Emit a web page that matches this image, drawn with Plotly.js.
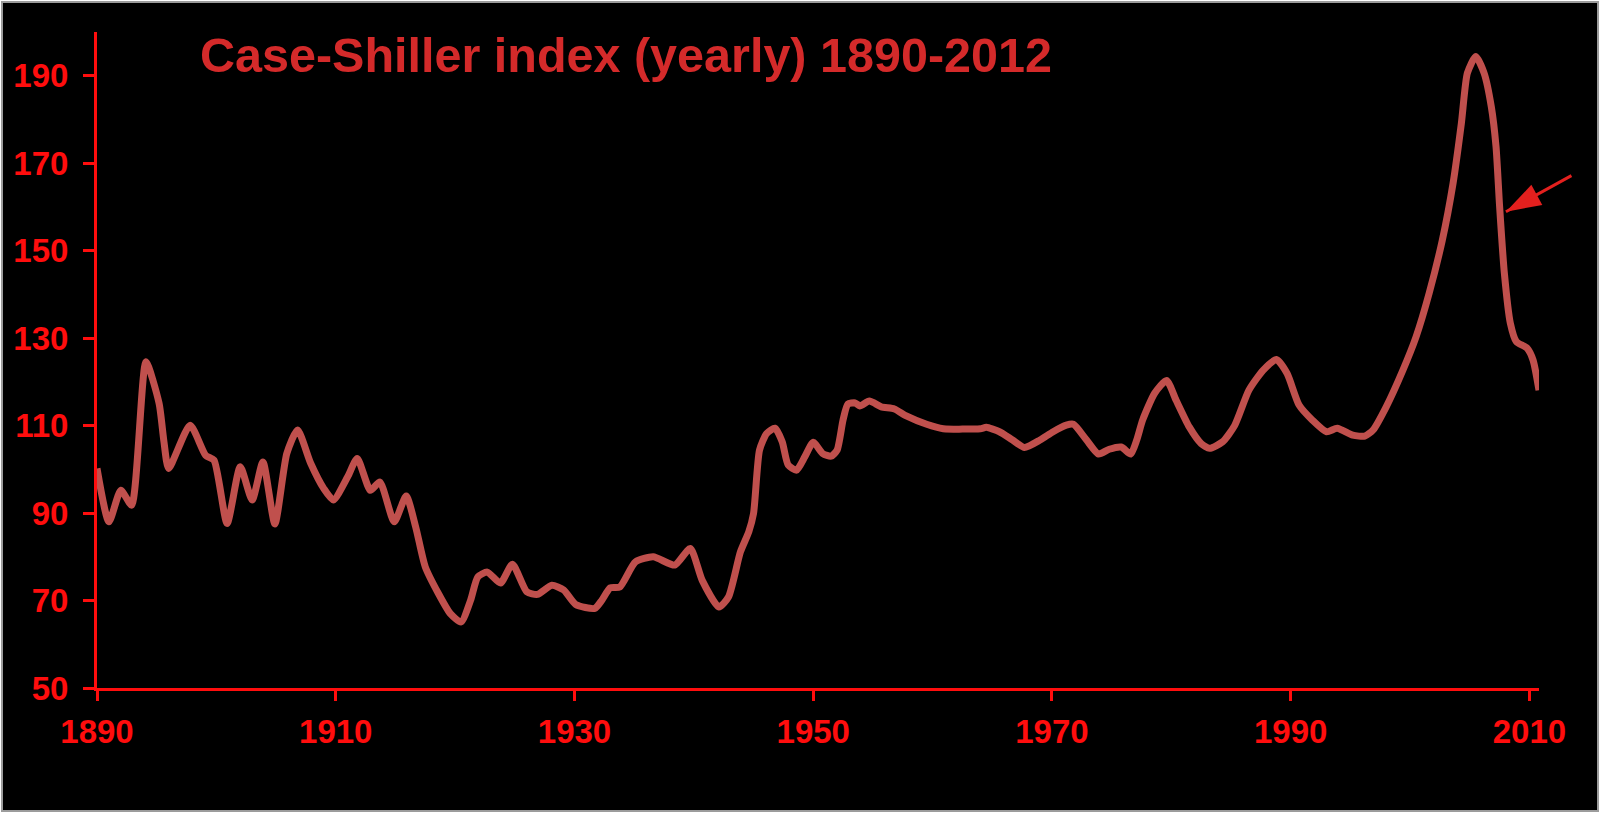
<!DOCTYPE html>
<html>
<head>
<meta charset="utf-8">
<script src="https://cdn.plot.ly/plotly-3.0.1.min.js"></script>
<style>
  html, body { margin: 0; padding: 0; background: #ffffff; }
  #chart { position: absolute; left: 0; top: 0; width: 1600px; height: 814px; }
  #frameOuter { position: absolute; left: 0; top: 0; width: 1600px; height: 814px; box-sizing: border-box;
    border-style: solid; border-color: #ffffff; border-width: 1px 1px 2px 1px; pointer-events: none; }
  #frameInner { position: absolute; left: 1px; top: 1px; width: 1598px; height: 811px; box-sizing: border-box;
    border: 2px solid #9c9c9c; pointer-events: none; }
</style>
</head>
<body>
<div id="chart"></div>
<div id="frameOuter"></div>
<div id="frameInner"></div>
<script>
const titleText = "Case-Shiller index (yearly) 1890-2012";

const years = [
  1890.0, 1891.0, 1892.0, 1892.9, 1894.1, 1895.2, 1895.6, 1896.0, 1897.8, 1899.1,
  1899.8, 1900.9, 1902.0, 1903.0, 1903.9, 1904.9, 1905.9, 1906.8, 1907.9, 1909.0,
  1909.8, 1911.0, 1911.8, 1912.9, 1913.7, 1914.9, 1915.9, 1916.7, 1917.5, 1918.6,
  1919.6, 1920.5, 1921.3, 1921.9, 1922.7, 1923.8, 1924.8, 1926.0, 1926.9, 1928.1,
  1929.1, 1930.1, 1931.7, 1932.3, 1933.0, 1933.8, 1935.1, 1936.6, 1938.4, 1939.7,
  1940.7, 1942.1, 1942.9, 1943.9, 1944.6, 1945.0, 1945.5, 1946.1, 1946.8, 1947.4,
  1947.9, 1948.6, 1949.3, 1950.0, 1950.8, 1951.5, 1952.0, 1952.5, 1952.9, 1953.5,
  1953.9, 1954.7, 1955.7, 1956.8, 1957.8, 1959.5, 1960.9, 1964.0, 1964.5, 1965.6,
  1966.7, 1967.7, 1969.0, 1970.1, 1971.2, 1971.8, 1972.9, 1973.9, 1974.8, 1975.8,
  1976.6, 1977.1, 1977.6, 1978.6, 1979.6, 1980.4, 1981.5, 1982.5, 1983.2, 1984.3,
  1985.3, 1986.5, 1987.7, 1988.8, 1989.7, 1990.7, 1991.8, 1993.0, 1993.9, 1995.2,
  1996.2, 1996.9, 1998.0, 1999.4, 2000.5, 2001.6, 2002.7, 2003.6, 2004.3, 2004.8,
  2005.5, 2006.2, 2006.8, 2007.2, 2007.5, 2007.9, 2008.4, 2008.9, 2009.8, 2010.3,
  2010.8
];

const indexValues = [
  100.2, 88.0, 95.2, 91.8, 124.6, 115.1, 106.5, 100.2, 110.1, 103.2,
  102.1, 87.6, 100.6, 93.0, 101.7, 87.5, 103.6, 109.0, 101.4, 95.6,
  93.0, 98.3, 102.5, 95.2, 97.1, 88.0, 93.9, 86.8, 77.7, 71.6,
  67.0, 65.1, 70.1, 75.4, 76.5, 74.0, 78.3, 72.0, 71.4, 73.5,
  72.4, 69.1, 68.2, 70.1, 72.9, 73.1, 78.8, 80.0, 78.1, 81.9,
  74.6, 68.5, 70.8, 81.1, 85.7, 89.9, 104.4, 108.2, 109.4, 106.3,
  101.0, 99.8, 102.9, 106.2, 103.6, 103.0, 104.4, 111.3, 114.9, 115.2,
  114.5, 115.6, 114.3, 113.8, 112.2, 110.3, 109.3, 109.3, 109.6, 108.6,
  106.7, 105.0, 106.7, 108.6, 110.1, 110.3, 106.7, 103.5, 104.6, 105.1,
  103.5, 106.7, 111.3, 117.4, 120.3, 115.8, 109.7, 105.9, 104.8, 106.3,
  110.0, 118.1, 122.7, 125.1, 121.9, 114.7, 111.3, 108.6, 109.4, 107.8,
  107.6, 109.0, 114.3, 122.7, 130.3, 140.3, 152.4, 165.4, 179.2, 190.6,
  194.4, 190.6, 183.0, 173.8, 160.1, 144.8, 133.4, 129.2, 127.7, 125.0,
  118.1
];

const xTickVals = [1890, 1910, 1930, 1950, 1970, 1990, 2010];
const xTickText = ["1890", "1910", "1930", "1950", "1970", "1990", "2010"];
const yTickVals = [50, 70, 90, 110, 130, 150, 170, 190];
const yTickText = ["50", "70", "90", "110", "130", "150", "170", "190"];

// arrow pointing at the post-2006 decline (tip position in data units)
const arrowPoint = { x: 2008.03, y: 158.9 };
const arrowColor = '#e3201e';

const trace = {
  x: years,
  y: indexValues,
  type: 'scatter',
  mode: 'lines',
  line: { color: '#c0504d', width: 7, shape: 'spline', smoothing: 0.6 },
  hoverinfo: 'x+y',
  showlegend: false
};

// arrow head, drawn as an oriented "arrow" marker at the tip
const arrowHead = {
  x: [arrowPoint.x],
  y: [arrowPoint.y],
  type: 'scatter',
  mode: 'markers',
  marker: { symbol: 'arrow', size: 37, angle: -118.6, color: arrowColor, line: { width: 0 } },
  cliponaxis: false,
  hoverinfo: 'skip',
  showlegend: false
};

const axisFont = { family: 'Liberation Sans, Arial, sans-serif', size: 33, color: '#ff0d0d', weight: 'bold' };

const layout = {
  width: 1600,
  height: 814,
  paper_bgcolor: '#000000',
  plot_bgcolor: '#000000',
  margin: { l: 97, r: 61, t: 32, b: 126, pad: 0 },
  title: {
    text: titleText,
    font: { family: 'Liberation Sans, Arial, sans-serif', size: 48.5, color: '#d42a2a', weight: 'bold' },
    xref: 'container', yref: 'container',
    x: 200 / 1600, xanchor: 'left',
    y: 1 - 55 / 814, yanchor: 'middle'
  },
  xaxis: {
    range: [1890, 2010.8],
    tickmode: 'array',
    tickvals: xTickVals,
    ticktext: xTickText,
    showgrid: false,
    zeroline: false,
    showline: true,
    linecolor: '#ff0d0d',
    linewidth: 3,
    ticks: 'outside',
    ticklen: 10,
    tickwidth: 3,
    tickcolor: '#ff0d0d',
    tickfont: axisFont,
    ticklabelstandoff: 2
  },
  yaxis: {
    range: [50, 200],
    tickmode: 'array',
    tickvals: yTickVals,
    ticktext: yTickText,
    showgrid: false,
    zeroline: false,
    showline: true,
    linecolor: '#ff0d0d',
    linewidth: 3,
    ticks: 'outside',
    ticklen: 11,
    tickwidth: 3,
    tickcolor: '#ff0d0d',
    tickfont: axisFont,
    ticklabelstandoff: 8
  },
  annotations: [{
    x: arrowPoint.x,
    y: arrowPoint.y,
    xref: 'x', yref: 'y',
    text: '',
    showarrow: true,
    ax: 67, ay: -37,
    arrowcolor: arrowColor,
    arrowwidth: 3,
    arrowhead: 0,
    standoff: 0
  }]
};

Plotly.newPlot('chart', [trace, arrowHead], layout, { displayModeBar: false, staticPlot: true });
</script>
</body>
</html>
